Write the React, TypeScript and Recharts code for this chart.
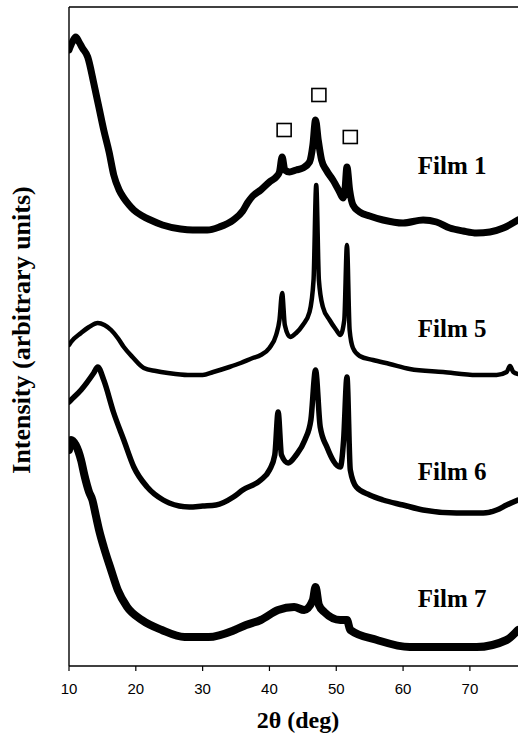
import {
  ComposedChart,
  Line,
  Scatter,
  XAxis,
  YAxis,
  ReferenceLine,
  ReferenceDot,
} from "recharts"

// XRD patterns, offset vertically (arbitrary units)
const film1X = [10, 10.5, 11, 11.5, 12, 12.8, 13.7, 14.5, 15.2, 16, 16.7, 17.5, 18.2, 19, 19.7, 21, 22.2, 24, 26.7, 28.5, 30.7, 32.5, 34.6, 36, 36.7, 37.5, 38.7, 40, 41, 41.5, 41.9, 42.3, 43, 44, 45, 46, 46.5, 46.9, 47.3, 47.8, 48.5, 49.5, 50.5, 51, 51.3, 51.6, 52, 52.5, 53.5, 55, 57, 60, 63, 65, 67, 69, 71, 73, 75, 77.2]
const film1Y = [616, 624, 629, 624, 618, 609, 583, 558, 536, 514, 491, 476, 468, 461, 456, 450, 446, 441, 437, 436, 436, 439, 446, 455, 463, 470, 476, 484, 489, 494, 509, 496, 494, 496, 498, 504, 521, 546, 526, 506, 496, 486, 474, 468, 476, 499, 476, 461, 454, 450, 446, 443, 446, 444, 438, 435, 433, 434, 438, 446]

const film5X = [10, 10.3, 11.8, 13, 14.3, 15.3, 16.3, 17.3, 18.2, 19.5, 21.2, 23, 24.8, 27.8, 30, 31.6, 34, 35.7, 37.5, 38.7, 40, 41, 41.5, 41.9, 42.3, 43.1, 44, 45, 46, 46.6, 47, 47.4, 48, 49, 50, 50.6, 51.2, 51.6, 52, 52.5, 53.5, 55.5, 58, 61, 66, 71, 74, 75.5, 76, 76.5, 77.2]
const film5Y = [321, 324, 333, 339, 343, 341, 336, 328, 319, 309, 298, 295, 293, 291, 291, 294, 299, 303, 308, 311, 318, 331, 346, 373, 341, 329, 333, 341, 354, 386, 481, 386, 359, 346, 336, 331, 346, 421, 336, 318, 310, 306, 302, 297, 294, 291, 291, 294, 300, 294, 292]

const film6X = [10, 10.3, 11.8, 13.7, 14.3, 15.2, 16.7, 18.2, 19.7, 21.7, 24.1, 25, 28, 30, 32, 34.6, 36, 38.7, 40, 40.8, 41.3, 41.8, 42.8, 44, 45.3, 46.2, 46.9, 47.6, 48.6, 50.6, 51.1, 51.6, 52.1, 53, 55, 57, 60, 63, 68, 72, 74, 75.5, 77.2]
const film6Y = [264, 266, 276, 293, 299, 286, 253, 226, 199, 179, 166, 163, 159, 160, 161, 169, 176, 186, 196, 211, 254, 211, 203, 211, 226, 246, 296, 239, 219, 199, 226, 289, 196, 179, 171, 166, 161, 156, 153, 153, 156, 161, 166]

const film7X = [10, 10.3, 11, 11.8, 12.3, 13, 13.5, 14, 14.5, 15.2, 16.3, 17.3, 18.7, 20.9, 23.9, 27.3, 30.9, 34.8, 36.5, 38.7, 41.3, 43.7, 45.2, 46.5, 46.9, 47.4, 48.2, 50.6, 51.6, 52.1, 56.1, 61, 66, 71, 75.5, 77.2]
const film7Y = [216, 226, 221, 206, 191, 174, 166, 151, 136, 119, 96, 76, 59, 46, 36, 29, 29, 36, 41, 46, 56, 59, 56, 66, 79, 61, 54, 46, 46, 36, 26, 19, 19, 19, 26, 36]

// open-square peak markers above Film 1
const markerX = [42.2, 47.4, 52.1]
const markerY = [536, 571, 529]

const xTicks = [10, 20, 30, 40, 50, 60, 70]

const filmNames = ["Film 1", "Film 5", "Film 6", "Film 7"]
const filmLabelX = [62.2, 62.2, 62.2, 62.2]
const filmLabelY = [492, 329, 186, 59]

const zip = (xs: number[], ys: number[]) => xs.map((x, i) => ({ x, y: ys[i] }))

const series = [
  { name: "Film 1", data: zip(film1X, film1Y), w: 7 },
  { name: "Film 5", data: zip(film5X, film5Y), w: 4.5 },
  { name: "Film 6", data: zip(film6X, film6Y), w: 5.5 },
  { name: "Film 7", data: zip(film7X, film7Y), w: 8 },
]
const markers = zip(markerX, markerY)

const serif = "'Liberation Serif', 'Times New Roman', serif"

const SquareMark = (props: any) => {
  const { cx, cy } = props
  return <rect x={cx - 7} y={cy - 6.5} width={14} height={13} fill="none" stroke="#000" strokeWidth={1.6} />
}

const filmLabel = (text: string) => (props: any) => {
  const vb = props.viewBox || {}
  return (
    <text x={vb.x} y={vb.y} fontFamily={serif} fontWeight="bold" fontSize={25} fill="#000">
      {text}
    </text>
  )
}

export default function App() {
  return (
    <div style={{ position: "absolute", left: 0, top: 0, width: 518, height: 741, background: "#fff" }}>
      <ComposedChart width={518} height={741} margin={{ top: 7, right: 0, bottom: 45, left: 69 }}>
        <XAxis
          type="number"
          dataKey="x"
          domain={[10, 77.2]}
          allowDataOverflow
          ticks={xTicks}
          tickSize={5}
          tickMargin={12}
          height={30}
          axisLine={{ stroke: "#000", strokeWidth: 1.3 }}
          tickLine={{ stroke: "#000", strokeWidth: 1.2 }}
          tick={{ fill: "#000", fontSize: 15, fontFamily: "'Liberation Sans', Arial, sans-serif" }}
        />
        <YAxis
          type="number"
          dataKey="y"
          domain={[0, 659]}
          allowDataOverflow
          hide
        />
        <ReferenceLine y={659} stroke="#000" strokeWidth={1.5} />
        <ReferenceLine x={10} stroke="#000" strokeWidth={1.4} />
        {series.map((s) => (
          <Line
            key={s.name}
            data={s.data}
            dataKey="y"
            type="monotone"
            stroke="#000"
            strokeWidth={s.w}
            strokeLinecap="round"
            strokeLinejoin="round"
            dot={false}
            isAnimationActive={false}
          />
        ))}
        <Scatter data={markers} dataKey="y" shape={SquareMark} isAnimationActive={false} />
        {filmNames.map((n, i) => (
          <ReferenceDot
            key={n}
            x={filmLabelX[i]}
            y={filmLabelY[i]}
            r={0}
            stroke="none"
            fill="none"
            label={{ content: filmLabel(n) }}
          />
        ))}
      </ComposedChart>
      <svg width={518} height={741} style={{ position: "absolute", left: 0, top: 0, pointerEvents: "none" }}>
        <text
          transform="translate(30,330) rotate(-90)"
          textAnchor="middle"
          fontFamily={serif}
          fontWeight="bold"
          fontSize={26}
          fill="#000"
        >
          Intensity (arbitrary units)
        </text>
        <text x={298} y={728} textAnchor="middle" fontFamily={serif} fontWeight="bold" fontSize={24} fill="#000">
          2θ (deg)
        </text>
      </svg>
    </div>
  )
}
